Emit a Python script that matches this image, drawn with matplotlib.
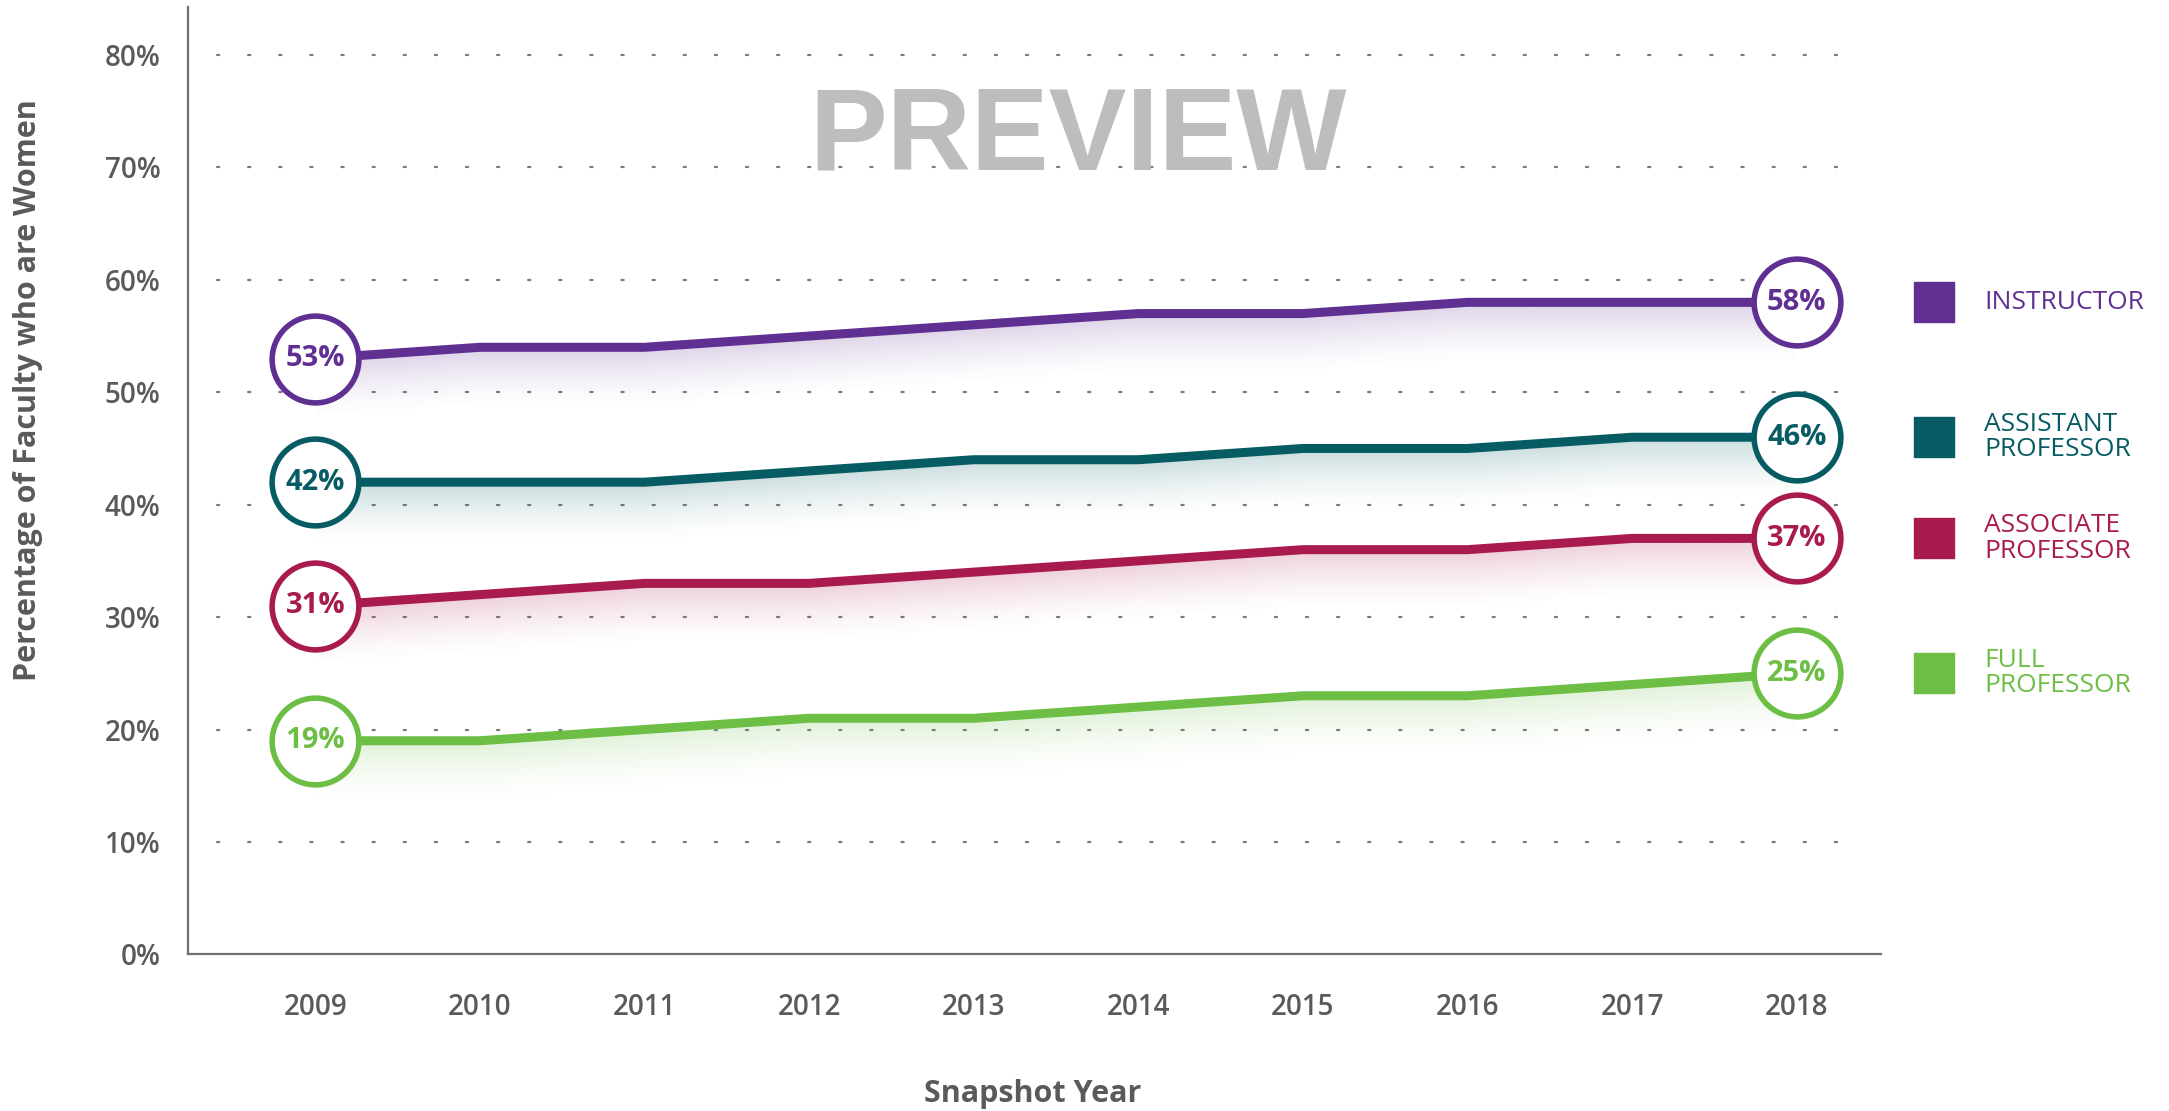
import numpy as np
import matplotlib
matplotlib.use("Agg")
import matplotlib.pyplot as plt
import matplotlib.transforms as mtransforms

years = [2009, 2010, 2011, 2012, 2013, 2014, 2015, 2016, 2017, 2018]
instructor = [53, 54, 54, 55, 56, 57, 57, 58, 58, 58]
assistant = [42, 42, 42, 43, 44, 44, 45, 45, 46, 46]
associate = [31, 32, 33, 33, 34, 35, 36, 36, 37, 37]
full_prof = [19, 19, 20, 21, 21, 22, 23, 23, 24, 25]

series_names = ["INSTRUCTOR", "ASSISTANT\nPROFESSOR", "ASSOCIATE\nPROFESSOR", "FULL\nPROFESSOR"]
series_values = [instructor, assistant, associate, full_prof]
series_colors = ["#5F2F92", "#065C62", "#A91B4F", "#6DBE45"]

y_ticks = [0, 10, 20, 30, 40, 50, 60, 70, 80]
y_tick_labels = [f"{v}%" for v in y_ticks]

FONT = "Open Sans"
GREY = "#5a5a5a"

fig = plt.figure(figsize=(21.69, 11.11), dpi=100)
ax = fig.add_axes([0.0867, 0.141, 0.7806, 0.853])
ax.set_xlim(2008.227, 2018.513)
ax.set_ylim(0, 84.3)

# dotted gridlines
for v in y_ticks[1:]:
    ax.plot([2008.40, 2018.34], [v, v], color="#7a7a7a", lw=1.6,
            linestyle=(0, (1, 13)), zorder=1, dash_capstyle="round")

# gradient shading under lines
depth = 5.5
xs = np.array(years, dtype=float)
gx = np.linspace(xs[0], xs[-1], 900)
for vals, col in zip(series_values, series_colors):
    yv = np.array(vals, dtype=float)
    ytop = yv.max() + 0.5
    ybot = yv.min() - depth - 0.5
    gy = np.linspace(ybot, ytop, 400)
    line_y = np.interp(gx, xs, yv)
    off = line_y[None, :] - gy[:, None]
    alpha = np.where((off >= 0) & (off <= depth), 0.22 * (1 - off / depth) ** 1.5, 0.0)
    rgb = matplotlib.colors.to_rgb(col)
    img = np.zeros((len(gy), len(gx), 4))
    img[..., 0], img[..., 1], img[..., 2] = rgb
    img[..., 3] = alpha
    ax.imshow(img, extent=[gx[0], gx[-1], ybot, ytop], origin="lower",
              aspect="auto", interpolation="bilinear", zorder=2)

# lines
for vals, col in zip(series_values, series_colors):
    ax.plot(years, vals, color=col, lw=6.5, zorder=3, solid_joinstyle="miter")

# end circles and labels
for vals, col in zip(series_values, series_colors):
    for i in (0, len(years) - 1):
        ax.scatter([years[i]], [vals[i]], s=3900, facecolor="white",
                   edgecolor=col, linewidth=4.0, zorder=4, clip_on=False)
        ax.text(years[i], vals[i], f"{vals[i]}%", color=col, ha="center",
                va="center", fontsize=21, fontweight="bold", family=FONT,
                zorder=5)

# legend at last values
trans = mtransforms.blended_transform_factory(ax.transAxes, ax.transData)
for name, vals, col in zip(series_names, series_values, series_colors):
    ax.scatter([1.031], [vals[-1]], transform=trans, marker="s", s=870,
               color=col, clip_on=False, zorder=5)
    ax.text(1.061, vals[-1], name, transform=trans, color=col, ha="left",
            va="center", fontsize=19, family=FONT, linespacing=1.02,
            clip_on=False)

# spines and ticks
for s in ("top", "right"):
    ax.spines[s].set_visible(False)
for s in ("left", "bottom"):
    ax.spines[s].set_color("#707070")
    ax.spines[s].set_linewidth(1.6)
ax.set_yticks(y_ticks)
ax.set_yticklabels(y_tick_labels)
ax.set_xticks(years)
ax.set_xticklabels([str(y) for y in years])
ax.tick_params(axis="both", length=0, labelcolor=GREY, labelsize=20)
ax.tick_params(axis="y", pad=20)
ax.tick_params(axis="x", pad=28)
for lbl in ax.get_xticklabels() + ax.get_yticklabels():
    lbl.set_family(FONT)
    lbl.set_fontweight("semibold")

fig.text(0.013, 0.649, "Percentage of Faculty who are Women", rotation=90,
         ha="center", va="center", fontsize=22, fontweight="bold",
         color=GREY, family=FONT)
fig.text(0.476, 0.015, "Snapshot Year", ha="center", va="center",
         fontsize=22, fontweight="bold", color=GREY, family=FONT)

fig.text(0.497, 0.875, "PREVIEW", ha="center", va="center", fontsize=84,
         fontweight="bold", color="#BDBDBD", family="Liberation Sans",
         zorder=10)

fig.savefig("out.png", dpi=100)
